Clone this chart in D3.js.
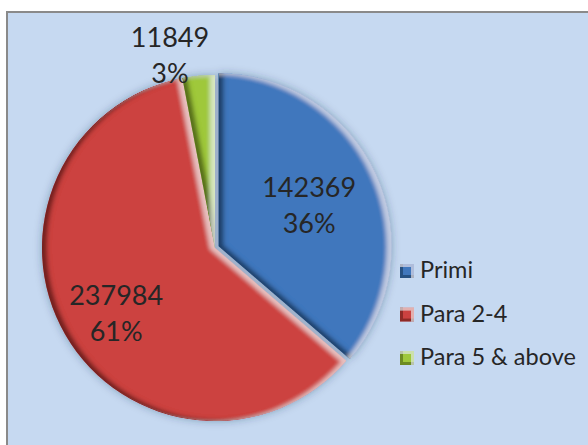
<!DOCTYPE html>
<html>
<head>
<meta charset="utf-8">
<script src="https://cdn.jsdelivr.net/npm/d3@7"></script>
<style>
  html, body { margin: 0; padding: 0; background: #ffffff; }
  svg { display: block; }
</style>
</head>
<body>
<svg id="chart" width="588" height="445"></svg>
<script>
// ---- data ----
const categories = ["Primi", "Para 2-4", "Para 5 & above"];
const values = [142369, 237984, 11849];
const percentLabels = ["36%", "61%", "3%"];

// ---- style ----
const colors = ["#3f77bd", "#cc4341", "#9fc83b"];
const width = 588, height = 445;
const cx = 215, cy = 248, radius = 173;
const explode = [4, 0, 0];
const labelRadius = [108, 120, 190];
const labelNudge = [[-4, 5], [5, 8], [-27, -1]];

const svg = d3.select("#chart");
const defs = svg.append("defs");

// bevel filter
const f = defs.append("filter").attr("id", "bevel")
  .attr("x", "-10%").attr("y", "-10%").attr("width", "120%").attr("height", "120%");
f.append("feGaussianBlur").attr("in", "SourceAlpha").attr("stdDeviation", 2).attr("result", "blur");
f.append("feOffset").attr("in", "blur").attr("dx", 5).attr("dy", -1).attr("result", "offR");
f.append("feComposite").attr("in", "SourceAlpha").attr("in2", "offR")
  .attr("operator", "arithmetic").attr("k2", 1).attr("k3", -1).attr("result", "darkMask");
f.append("feFlood").attr("flood-color", "#000000").attr("flood-opacity", 0.72).attr("result", "darkCol");
f.append("feComposite").attr("in", "darkCol").attr("in2", "darkMask").attr("operator", "in").attr("result", "dark");
f.append("feOffset").attr("in", "blur").attr("dx", -5).attr("dy", 1).attr("result", "offL");
f.append("feComposite").attr("in", "SourceAlpha").attr("in2", "offL")
  .attr("operator", "arithmetic").attr("k2", 1).attr("k3", -1).attr("result", "lightMask");
f.append("feFlood").attr("flood-color", "#ffffff").attr("flood-opacity", 0.5).attr("result", "lightCol");
f.append("feComposite").attr("in", "lightCol").attr("in2", "lightMask").attr("operator", "in").attr("result", "light");
const m = f.append("feMerge");
m.append("feMergeNode").attr("in", "SourceGraphic");
m.append("feMergeNode").attr("in", "dark");
m.append("feMergeNode").attr("in", "light");

// lighter bevel for legend keys
const fk = defs.append("filter").attr("id", "keybevel")
  .attr("x", "-20%").attr("y", "-20%").attr("width", "140%").attr("height", "140%");
fk.append("feOffset").attr("in", "SourceAlpha").attr("dx", 3).attr("dy", -3).attr("result", "o1");
fk.append("feComposite").attr("in", "SourceAlpha").attr("in2", "o1")
  .attr("operator", "arithmetic").attr("k2", 1).attr("k3", -1).attr("result", "dm");
fk.append("feFlood").attr("flood-color", "#000").attr("flood-opacity", 0.55).attr("result", "dc");
fk.append("feComposite").attr("in", "dc").attr("in2", "dm").attr("operator", "in").attr("result", "dk");
fk.append("feOffset").attr("in", "SourceAlpha").attr("dx", -3).attr("dy", 3).attr("result", "o2");
fk.append("feComposite").attr("in", "SourceAlpha").attr("in2", "o2")
  .attr("operator", "arithmetic").attr("k2", 1).attr("k3", -1).attr("result", "lm");
fk.append("feFlood").attr("flood-color", "#fff").attr("flood-opacity", 0.4).attr("result", "lc");
fk.append("feComposite").attr("in", "lc").attr("in2", "lm").attr("operator", "in").attr("result", "lt");
const mk = fk.append("feMerge");
mk.append("feMergeNode").attr("in", "SourceGraphic");
mk.append("feMergeNode").attr("in", "dk");
mk.append("feMergeNode").attr("in", "lt");

// outer shadow
const sh = defs.append("filter").attr("id", "shadow")
  .attr("x", "-20%").attr("y", "-20%").attr("width", "140%").attr("height", "140%");
sh.append("feDropShadow").attr("dx", 0).attr("dy", 0).attr("stdDeviation", 4)
  .attr("flood-color", "#1f3550").attr("flood-opacity", 0.35);

// background & frame
svg.append("rect").attr("x", 7).attr("y", 12).attr("width", width).attr("height", height)
  .attr("fill", "#c6d9f1").attr("stroke", "#8a8a8a").attr("stroke-width", 2);

// pie
const pie = d3.pie().sort(null).value(d => d)(values);
const arc = d3.arc().innerRadius(0).outerRadius(radius);

const g = svg.append("g").attr("transform", `translate(${cx},${cy})`).attr("filter", "url(#shadow)");
g.selectAll("path").data(pie).join("path")
  .attr("transform", (d, i) => {
    const a = (d.startAngle + d.endAngle) / 2;
    return `translate(${Math.sin(a) * explode[i]},${-Math.cos(a) * explode[i]})`;
  })
  .attr("d", arc)
  .attr("fill", (d, i) => colors[i])
  .attr("filter", "url(#bevel)");

// labels
const lg = svg.append("g").attr("transform", `translate(${cx},${cy})`);
pie.forEach((d, i) => {
  const la = d3.arc().innerRadius(labelRadius[i]).outerRadius(labelRadius[i]);
  const [x, y] = la.centroid(d);
  const t = lg.append("text")
    .attr("x", x + labelNudge[i][0]).attr("y", y + labelNudge[i][1])
    .attr("text-anchor", "middle")
    .attr("font-family", "Lato, 'Open Sans', sans-serif")
    .attr("font-size", 27)
    .attr("fill", "#262626");
  t.append("tspan").attr("x", x + labelNudge[i][0]).attr("dy", "-0.4em").text(values[i]);
  t.append("tspan").attr("x", x + labelNudge[i][0]).attr("dy", "1.33em").text(percentLabels[i]);
});

// legend
const legend = svg.append("g").attr("transform", "translate(400,278)");
const items = legend.selectAll("g").data(categories).join("g")
  .attr("transform", (d, i) => `translate(0,${i * 43.5})`);
items.append("rect").attr("x", 0).attr("y", -14).attr("width", 14).attr("height", 14)
  .attr("fill", (d, i) => colors[i]).attr("filter", "url(#keybevel)");
items.append("text").attr("x", 20).attr("y", 0)
  .attr("font-family", "Lato, 'Open Sans', sans-serif")
  .attr("font-size", 23.5)
  .attr("fill", "#262626")
  .text(d => d);
</script>
</body>
</html>
